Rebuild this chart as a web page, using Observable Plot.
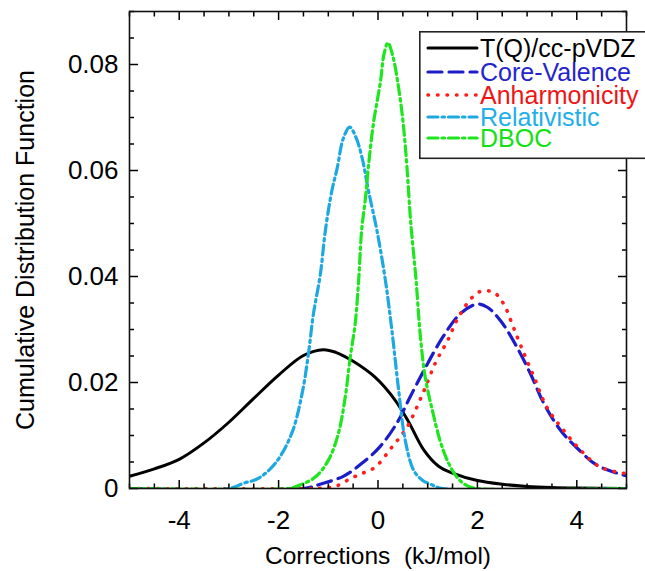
<!DOCTYPE html>
<html><head><meta charset="utf-8">
<script src="https://cdn.jsdelivr.net/npm/d3@7"></script>
<script src="https://cdn.jsdelivr.net/npm/@observablehq/plot@0.6"></script>
<style>
html,body{margin:0;padding:0;background:#fff;overflow:hidden}
#chart{position:relative;width:645px;height:571px;font-family:"Liberation Sans",Arial,sans-serif;overflow:hidden}
#legend{position:absolute;left:419px;top:31px}
</style></head><body><div id="chart"></div>
<script>
// ---- data ----
const seriesNames = ["T(Q)/cc-pVDZ", "Core-Valence", "Anharmonicity", "Relativistic", "DBOC"];
const seriesColors = ["#000000", "#1c1cc8", "#ff1e1e", "#1ea8e2", "#1ee61e"];
const textColors = ["#000000", "#2424cc", "#f01414", "#22aee8", "#14e014"];

const tqX = [-5, -4.5, -4, -3.5, -3, -2.5, -2, -1.5, -1.1, -0.85, -0.5, -0.06, 0.35, 0.62, 0.92, 1.22, 1.5, 2.0, 2.5, 3.0, 3.5, 4.0, 5.0];
const tqY = [0.0023, 0.0037, 0.0055, 0.0086, 0.0125, 0.0170, 0.0214, 0.0251, 0.0262, 0.0257, 0.0240, 0.0210, 0.0166, 0.0125, 0.0073, 0.0042, 0.0029, 0.0015, 0.0008, 0.0004, 0.0002, 0.0001, 0];

const cvX = [-5, -1.5, -1.13, -0.7, -0.33, 0.05, 0.41, 0.61, 0.92, 1.3, 1.66, 2.0, 2.2, 2.47, 2.8, 3.07, 3.34, 3.68, 4.02, 4.42, 5];
const cvY = [0, 0, 0.0009, 0.0023, 0.0047, 0.0080, 0.0128, 0.0166, 0.0222, 0.0285, 0.0330, 0.0348, 0.0342, 0.0316, 0.0266, 0.0216, 0.0160, 0.0109, 0.0075, 0.0043, 0.0024];

const anX = [-5, -1.3, -1.0, -0.8, -0.55, -0.33, -0.06, 0.28, 0.58, 0.9, 1.16, 1.4, 1.6, 1.87, 2.07, 2.33, 2.53, 2.7, 2.87, 3.14, 3.4, 3.74, 4.08, 4.48, 5];
const anY = [0, 0, 0.0002, 0.0006, 0.0019, 0.0028, 0.0040, 0.0078, 0.0115, 0.0179, 0.0238, 0.0279, 0.0320, 0.0358, 0.0372, 0.0370, 0.0348, 0.0310, 0.0270, 0.0210, 0.0153, 0.0109, 0.0072, 0.0040, 0.0028];

const relX = [-5, -3.0, -2.7, -2.41, -2.07, -1.74, -1.53, -1.4, -1.3, -1.16, -1.06, -0.93, -0.82, -0.7, -0.57, -0.45, -0.32, -0.19, -0.02, 0.15, 0.28, 0.41, 0.55, 0.72, 0.9, 1.06, 1.3, 5];
const relY = [0, 0, 0.0010, 0.0019, 0.0047, 0.0103, 0.0178, 0.0254, 0.0329, 0.0404, 0.0486, 0.0561, 0.0605, 0.0660, 0.0682, 0.0664, 0.0624, 0.0561, 0.0486, 0.0392, 0.0298, 0.0190, 0.0090, 0.0034, 0.0015, 0.0008, 0, 0];

const dbX = [-5, -1.8, -1.67, -1.27, -1.0, -0.8, -0.66, -0.56, -0.46, -0.39, -0.33, -0.25, -0.19, -0.09, 0.05, 0.12, 0.2, 0.3, 0.4, 0.5, 0.58, 0.66, 0.76, 0.85, 0.95, 1.1, 1.25, 1.4, 1.6, 1.8, 2.0, 5];
const dbY = [0, 0, 0.0003, 0.0021, 0.0053, 0.0103, 0.0172, 0.0247, 0.0310, 0.0392, 0.0486, 0.0550, 0.0610, 0.0690, 0.0768, 0.0819, 0.0841, 0.0815, 0.0765, 0.0695, 0.0610, 0.0500, 0.0400, 0.0290, 0.0210, 0.0145, 0.0090, 0.0052, 0.0020, 0.0005, 0, 0];

const xTicks = [-4, -2, 0, 2, 4];
const yTicks = [0, 0.02, 0.04, 0.06, 0.08];
const xLabel = "Corrections  (kJ/mol)";
const yLabel = "Cumulative Distribution Function";

// ---- styles ----
const dashes = [null, "14 7", "0.5 9", "10 4 2.5 4", "10 4 2.5 4"];
const widths = [3, 3.2, 3.6, 3.2, 3.2];

const seriesXs = [tqX, cvX, anX, relX, dbX];
const seriesYs = [tqY, cvY, anY, relY, dbY];
const tables = seriesXs.map((xs, i) => xs.map((x, j) => ({x, y: seriesYs[i][j], series: seriesNames[i]})));

const xMinor = d3.range(-5, 5.001, 0.5).map(v => +v.toFixed(2)).filter(v => !xTicks.includes(v));
const yMinor = d3.range(0, 0.0901, 0.005).map(v => +v.toFixed(3)).filter(v => !yTicks.includes(v));

const fmtY = d => d === 0 ? "0" : d.toFixed(2);
const fmtX = d => String(d);
const none = () => "";

const lineMarks = tables.map((t, i) => Plot.line(t, {
  x: "x", y: "y", stroke: seriesColors[i], strokeWidth: widths[i],
  strokeDasharray: dashes[i], strokeLinecap: "round", strokeLinejoin: "round",
  curve: "catmull-rom", clip: true
}));

const plot = Plot.plot({
  width: 645, height: 571,
  marginLeft: 129, marginRight: 19, marginTop: 11, marginBottom: 83,
  style: {fontFamily: "'Liberation Sans', Arial, sans-serif", fontSize: "26px", background: "white", color: "black"},
  x: {domain: [-5, 5]},
  y: {domain: [0, 0.09]},
  marks: [
    ...lineMarks,
    Plot.axisX(xTicks, {anchor: "bottom", tickSize: -8, tickPadding: 30, tickFormat: fmtX, strokeWidth: 1.5, label: null}),
    Plot.axisX(xMinor, {anchor: "bottom", tickSize: -4.5, tickFormat: none, strokeWidth: 1.5, label: null}),
    Plot.axisX(xTicks, {anchor: "top", tickSize: -8, tickFormat: none, strokeWidth: 1.5, label: null}),
    Plot.axisX(xMinor, {anchor: "top", tickSize: -4.5, tickFormat: none, strokeWidth: 1.5, label: null}),
    Plot.axisY(yTicks, {anchor: "left", tickSize: -9, tickPadding: 20, tickFormat: fmtY, strokeWidth: 1.5, label: null}),
    Plot.axisY(yMinor, {anchor: "left", tickSize: -5, tickFormat: none, strokeWidth: 1.5, label: null}),
    Plot.axisY(yTicks, {anchor: "right", tickSize: -9, tickFormat: none, strokeWidth: 1.5, label: null}),
    Plot.axisY(yMinor, {anchor: "right", tickSize: -5, tickFormat: none, strokeWidth: 1.5, label: null}),
    Plot.frame({stroke: "#111", strokeWidth: 1.6}),
    Plot.text([yLabel], {frameAnchor: "left", textAnchor: "middle", dx: -104, rotate: -90, fontSize: 25, text: d => d}),
    Plot.text([xLabel], {frameAnchor: "bottom", textAnchor: "middle", dy: 75, fontSize: 24.5, text: d => d})
  ]
});
document.getElementById("chart").append(plot);

// ---- legend box (overlapping the plot, top right) ----
const lg = d3.select("#chart").append("svg").attr("id", "legend")
  .attr("width", 232).attr("height", 129);
lg.append("rect").attr("x", 0.8).attr("y", 0.8).attr("width", 240).attr("height", 126.5)
  .attr("fill", "white").attr("stroke", "#222").attr("stroke-width", 1.6);
const rowY = [17, 41, 64, 86, 107];
seriesNames.forEach((name, i) => {
  lg.append("line").attr("x1", 9).attr("x2", 58).attr("y1", rowY[i]).attr("y2", rowY[i])
    .attr("stroke", seriesColors[i]).attr("stroke-width", widths[i])
    .attr("stroke-dasharray", dashes[i]).attr("stroke-linecap", "round");
  lg.append("text").attr("x", 61).attr("y", rowY[i]).attr("dy", "0.36em")
    .attr("fill", textColors[i]).attr("font-size", 25)
    .attr("font-family", "'Liberation Sans', Arial, sans-serif").text(name);
});
</script>
</body></html>
